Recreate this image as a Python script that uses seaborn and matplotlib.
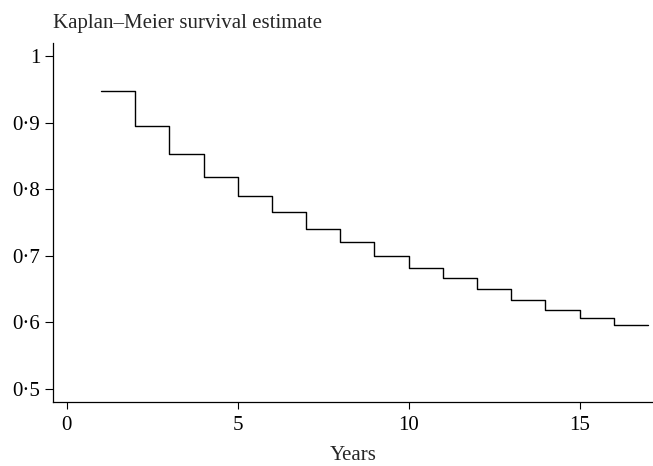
import matplotlib
matplotlib.use("Agg")
import matplotlib.pyplot as plt
from matplotlib.ticker import FuncFormatter
import pandas as pd
import seaborn as sns

# Kaplan-Meier estimate, one value per yearly step
step_start_years = [1, 2, 3, 4, 5, 6, 7, 8, 9, 10, 11, 12, 13, 14, 15, 16]
survival = [0.947, 0.895, 0.853, 0.819, 0.790, 0.766, 0.741, 0.720,
            0.700, 0.682, 0.666, 0.650, 0.634, 0.619, 0.606, 0.596]
last_year = 17

x_ticks = [0, 5, 10, 15]
y_ticks = [0.5, 0.6, 0.7, 0.8, 0.9, 1.0]

FS = 15

sns.set_style("ticks")
plt.rcParams["font.family"] = ["Liberation Serif", "DejaVu Serif"]
plt.rcParams["font.size"] = FS

# repeat the last value so the final step is drawn out to year 17
df = pd.DataFrame({
    "year": step_start_years + [last_year],
    "surv": survival + [survival[-1]],
})

fig = plt.figure(figsize=(6.53, 4.66), dpi=100)
ax = fig.add_axes([0.081, 0.137, 0.919, 0.771])

sns.lineplot(data=df, x="year", y="surv", drawstyle="steps-post",
             estimator=None, color="black", linewidth=1.0, ax=ax)

ax.set_xlim(-0.41, 17.15)
ax.set_ylim(0.48, 1.02)
ax.set_xticks(x_ticks)
ax.set_yticks(y_ticks)


def _dot_fmt(v, pos):
    if abs(v - round(v)) < 1e-9:
        return str(int(round(v)))
    return f"{v:.1f}".replace(".", "\u00b7")


ax.yaxis.set_major_formatter(FuncFormatter(_dot_fmt))
ax.tick_params(axis="both", width=0.8, labelsize=FS, colors="black")
ax.tick_params(axis="x", length=5, pad=5)
ax.tick_params(axis="y", length=6, pad=3)

for side in ["left", "bottom"]:
    ax.spines[side].set_linewidth(0.9)
    ax.spines[side].set_color("black")
ax.spines["top"].set_visible(False)
ax.spines["right"].set_visible(False)

ax.set_xlabel("Years", fontsize=FS, labelpad=8)
ax.set_ylabel("")
fig.text(0.081, 0.950, "Kaplan\u2013Meier survival estimate", fontsize=FS,
         ha="left", va="center")

fig.savefig("out.png", dpi=100)
plt.close(fig)
